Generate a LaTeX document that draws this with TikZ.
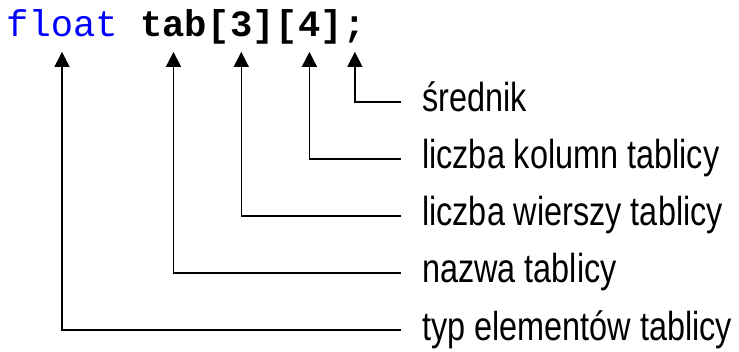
\documentclass[tikz,border=0pt]{standalone}
\usepackage{fontspec}
\setmainfont{Liberation Sans}
\setmonofont{Liberation Mono}
\newfontfamily\descfont[FakeStretch=0.8]{Liberation Sans}
\usetikzlibrary{positioning, arrows.meta}
\definecolor{keyblue}{rgb}{0, 0, 1}

\begin{document}
\begin{tikzpicture}[x=1pt, y=1pt]
		\tikzstyle{code}=[inner xsep=0pt, inner ysep=14.7pt, text depth=0pt, anchor=base west, font=\fontsize{37.2}{40}\selectfont\ttfamily\bfseries, text=black]
		\tikzstyle{desc}=[inner xsep=21pt, inner ysep=0pt, text height=20pt, text depth=0pt, anchor=west, font=\fontsize{40.5}{44}\selectfont\descfont, text=black]
		\tikzstyle{conn}=[line width=1.5pt, -{Triangle[length=15pt, width=15pt]}]
		
		\useasboundingbox (0,0) rectangle (739,351);
		
		%% declaration line
		\node [code, font=\fontsize{37.2}{40}\selectfont\ttfamily, text=keyblue] (float) at (6,314) {float};
		\node [code] (tab) at (139.8,314) {tab};
		\node [code, right=0pt of tab.base east, anchor=base west] (lb1) {[};
		\node [code, right=0pt of lb1.base east, anchor=base west] (three) {3};
		\node [code, right=0pt of three.base east, anchor=base west] (rb1) {]};
		\node [code, right=0pt of rb1.base east, anchor=base west] (lb2) {[};
		\node [code, right=0pt of lb2.base east, anchor=base west] (four) {4};
		\node [code, right=0pt of four.base east, anchor=base west] (rb2) {]};
		\node [code, right=0pt of rb2.base east, anchor=base west] (semi) {;};
		
		%% descriptions
		\node [desc] (lsemi) at (401,249) {średnik};
		\node [desc] (lfour) at (401,192) {liczba kolumn tablicy};
		\node [desc] (lthree) at (401,135) {liczba wierszy tablicy};
		\node [desc] (ltab) at (401,78) {nazwa tablicy};
		\node [desc] (lfloat) at (401,21) {typ elementów tablicy};
		
		\foreach \a/\b in {lsemi/semi, lfour/four, lthree/three, ltab/tab, lfloat/float}
		\draw [conn] (\a.west) -| (\b.south);
		
\end{tikzpicture}
\end{document}
